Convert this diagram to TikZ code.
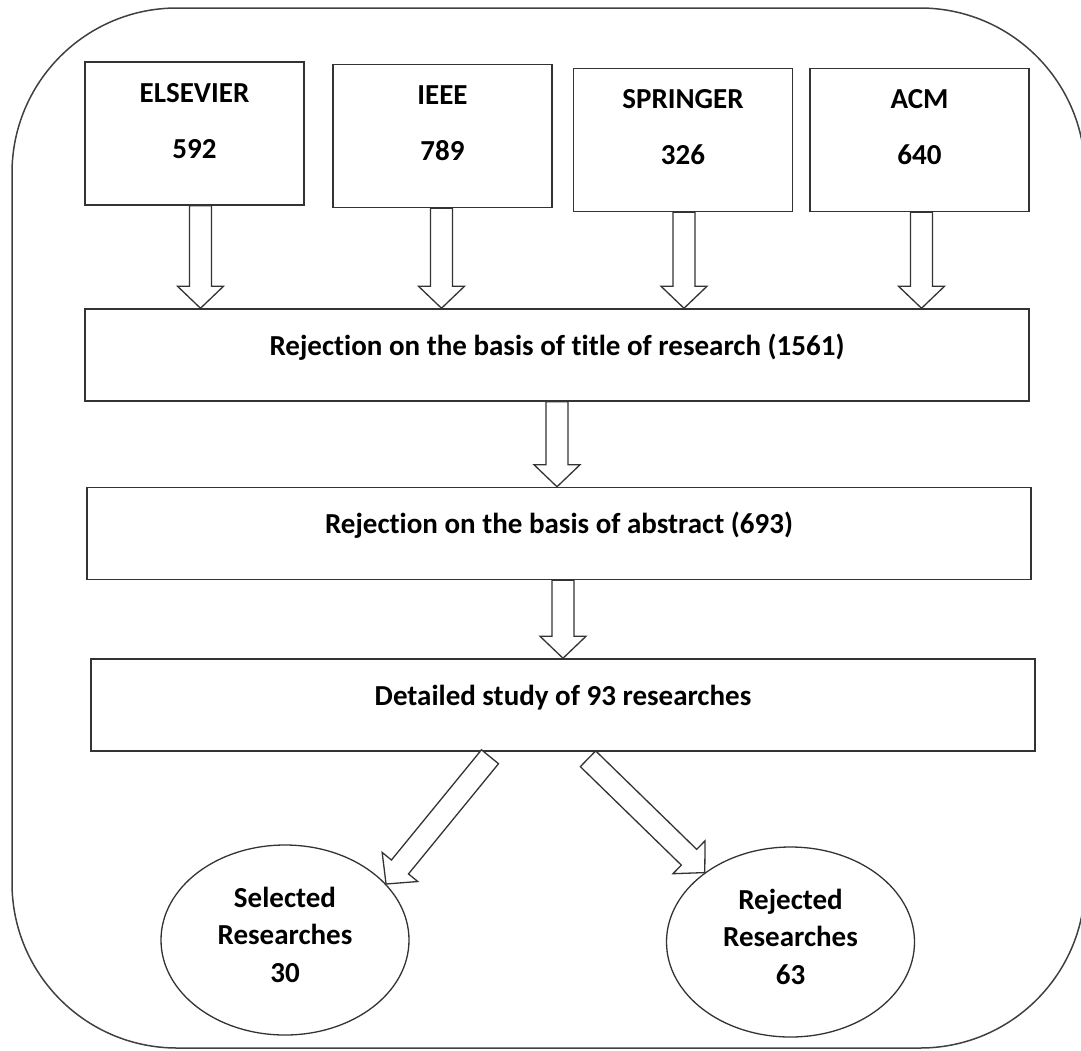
\documentclass[tikz,border=0pt]{standalone}
\usepackage{fontspec}
\setmainfont{Carlito}[Ligatures=NoCommon]
\usetikzlibrary{calc,shapes.geometric}

\tikzset{
  every node/.style={font=\fontsize{29}{35}\selectfont\bfseries},
  fat/.style={draw=black!80, line width=1.3pt, fill=white, line join=miter},
  frame/.style={draw=black!75, line width=1.5pt, rounded corners=165pt}
}
\newcommand{\fatarrow}[2]{
    \draw[fat] ($(#1)!11pt!90:(#2)$) -- ($(#2)!22pt!(#1)!11pt!90:(#2)$)
        -- ($(#2)!22pt!(#1)!23pt!90:(#2)$) -- (#2)
        -- ($(#2)!22pt!(#1)!23pt!-90:(#2)$) -- ($(#2)!22pt!(#1)!11pt!-90:(#2)$)
        -- ($(#1)!11pt!-90:(#2)$) -- cycle;
}

\begin{document}
\begin{tikzpicture}[x=1pt, y=-1pt]
        \tikzstyle{pubbox}=[draw=black!80,line width=1.5pt,rectangle,minimum width=219,minimum height=143,inner sep=0pt,align=center,text height=59pt,text depth=10pt]
        \tikzstyle{stagebox}=[draw=black!80,line width=1.5pt,rectangle,minimum width=944,minimum height=92,inner sep=0pt,text height=12pt,text depth=12pt]
        \tikzstyle{result}=[draw=black!80,line width=1.3pt,ellipse,minimum width=248,minimum height=190,inner sep=0pt,align=center,font=\fontsize{29}{37.5}\selectfont\bfseries,text height=94pt,text depth=10pt]

        \useasboundingbox (0,0) rectangle (1081,1050);
        \draw[frame] (12,8) rectangle (1085,1048);

        \node[pubbox] (els) at (194.5,133.5) {ELSEVIER\\[21pt]592};
        \node[pubbox] (ieee) at (442.5,136) {IEEE\\[21pt]789};
        \node[pubbox] (spr) at (683,140) {SPRINGER\\[21pt]326};
        \node[pubbox] (acm) at (919.5,140) {ACM\\[21pt]640};

        \node[stagebox] (title) at (557,355) {Rejection on the basis of title of research (1561)};
        \node[stagebox] (abs) at (559,533.5) {Rejection on the basis of abstract (693)};
        \node[stagebox] (det) at (563,705) {Detailed study of 93 researches};

        \node[result] (sel) at (285,940) {Selected\\Researches\\30};
        \node[result] (rej) at (790.5,942) {Rejected\\Researches\\63};

        \foreach \src/\dx in {els/6,ieee/-1,spr/1,acm/2}{
            \coordinate (\src-a) at ($(\src.south)+(\dx,0)$);
            \coordinate (\src-b) at (\src-a |- title.north);
            \fatarrow{\src-a}{\src-b}
        }
        \coordinate (t-b) at (title.south |- abs.north);
        \fatarrow{title.south}{t-b}
        \coordinate (a-a) at (det.north |- abs.south);
        \fatarrow{a-a}{det.north}
        \coordinate (d-l) at ($(det.south)+(-73,5)$);
        \coordinate (d-r) at ($(det.south)+(25,7)$);
        \fatarrow{d-l}{sel.29}
        \fatarrow{d-r}{rej.141}
\end{tikzpicture}
\end{document}
